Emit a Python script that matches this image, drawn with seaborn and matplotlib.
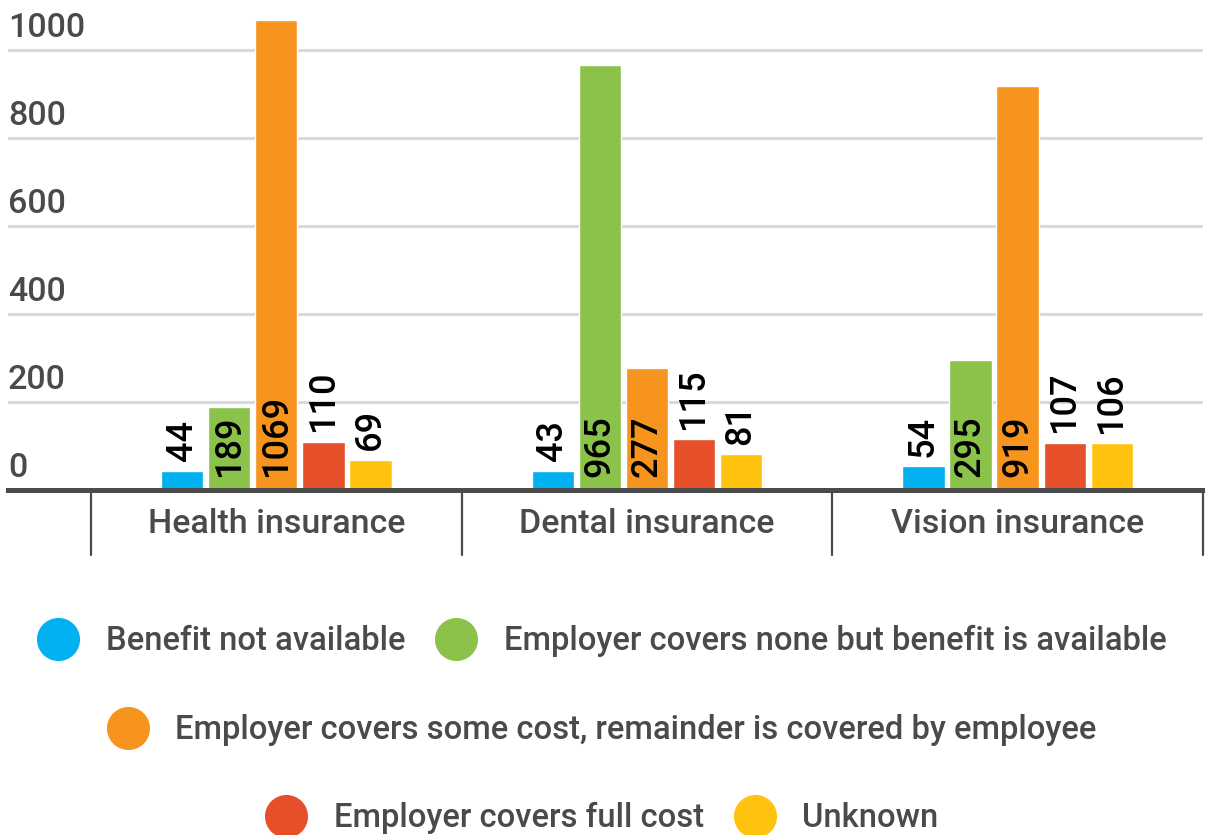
import matplotlib
matplotlib.use("Agg")
import matplotlib.pyplot as plt
import matplotlib.transforms as mtransforms
from matplotlib.lines import Line2D
import pandas as pd
import seaborn as sns

# data
categories = ["Health insurance", "Dental insurance", "Vision insurance"]
series = [
    "Benefit not available",
    "Employer covers none but benefit is available",
    "Employer covers some cost, remainder is covered by employee",
    "Employer covers full cost",
    "Unknown",
]
benefit_not_available = [44, 43, 54]
covers_none = [189, 965, 295]
covers_some = [1069, 277, 919]
covers_full = [110, 115, 107]
unknown = [69, 81, 106]
y_ticks = [0, 200, 400, 600, 800, 1000]
colors = ["#00b0ef", "#8bc34a", "#f7941d", "#e5502a", "#ffc20e"]

TEXT_GREY = "#4a4a4a"

sns.set_theme(style="white")
plt.rcParams["font.family"] = ["Roboto", "DejaVu Sans"]

values = [benefit_not_available, covers_none, covers_some, covers_full, unknown]
rows = []
for s, vals in zip(series, values):
    for c, v in zip(categories, vals):
        rows.append({"category": c, "series": s, "value": v})
df = pd.DataFrame(rows)

W, H = 1205, 835
fig = plt.figure(figsize=(W / 100, H / 100), dpi=100)
ax_left, ax_right = 8 / W, 1203 / W
ax_bottom, ax_top = 1 - 490 / H, 1 - 6 / H
ax = fig.add_axes([ax_left, ax_bottom, ax_right - ax_left, ax_top - ax_bottom])

sns.barplot(data=df, x="category", y="value", hue="series", order=categories,
            hue_order=series, palette=colors, width=0.635, gap=0.1,
            legend=False, ax=ax, saturation=1)

ax.set_ylim(0, 1100)
ax.set_xlim(-0.5 - 83 / 371, 2.5)

# grid lines
for t in y_ticks[1:]:
    ax.axhline(t, color="#d9d9d9", lw=2.2, zorder=0)

# y labels sit inside the plot, above each gridline
trans_y = mtransforms.blended_transform_factory(ax.transAxes, ax.transData)
for t in y_ticks:
    ax.annotate(str(t), xy=(0, t), xycoords=trans_y, xytext=(0, 4),
                textcoords="offset points", ha="left", va="bottom",
                fontsize=24.5, color=TEXT_GREY, fontweight="medium")
ax.set_yticks([])
ax.set_ylabel("")
ax.set_xlabel("")

# spines
for side in ["top", "right", "left"]:
    ax.spines[side].set_visible(False)
ax.spines["bottom"].set_color("#4a4a4a")
ax.spines["bottom"].set_linewidth(3.6)
ax.tick_params(axis="x", length=0, pad=13, labelsize=24.5, labelcolor=TEXT_GREY)
for lab in ax.get_xticklabels():
    lab.set_fontweight("medium")

# category separators below the axis
trans_x = mtransforms.blended_transform_factory(ax.transData, ax.transAxes)
sep_len = 65 / (490 - 6)
for b in [-0.5, 0.5, 1.5, 2.5]:
    ax.add_line(Line2D([b, b], [0, -sep_len], transform=trans_x, color="#4a4a4a",
                       lw=1.6, clip_on=False))

# value labels: inside at the base for tall bars, above the bar otherwise
for cont in ax.containers:
    for bar in cont:
        h = bar.get_height()
        xc = bar.get_x() + bar.get_width() / 2
        if h >= 150:
            ax.annotate(f"{h:.0f}", xy=(xc, 0), xytext=(0, 9),
                        textcoords="offset points", rotation=90, ha="center",
                        va="bottom", fontsize=26, color="black", fontweight="medium")
        else:
            ax.annotate(f"{h:.0f}", xy=(xc, h), xytext=(0, 7),
                        textcoords="offset points", rotation=90, ha="center",
                        va="bottom", fontsize=26, color="black", fontweight="medium")

# legend in three centred rows
def handle(col):
    return Line2D([], [], marker="o", ls="", markersize=30, markerfacecolor=col,
                  markeredgecolor=col)

legend_rows = [([0, 1], 641), ([2], 730), ([3, 4], 818)]
for idx, ypix in legend_rows:
    leg = fig.legend([handle(colors[i]) for i in idx], [series[i] for i in idx],
                     loc="center", bbox_to_anchor=(0.5, 1 - ypix / H),
                     ncol=len(idx), frameon=False,
                     prop={"size": 23.6, "weight": "medium"},
                     handletextpad=0.85, columnspacing=0.95, handlelength=1.2,
                     labelcolor=TEXT_GREY)

fig.savefig("out.png", dpi=100)
